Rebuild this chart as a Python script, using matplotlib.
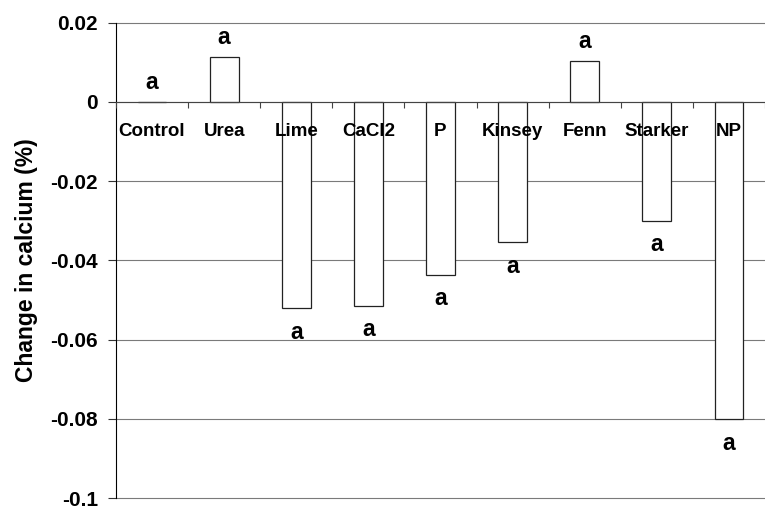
import matplotlib
matplotlib.use("Agg")
import matplotlib.pyplot as plt
import numpy as np

categories = ["Control", "Urea", "Lime", "CaCl2", "P", "Kinsey", "Fenn", "Starker", "NP"]
values = [0.0, 0.0112, -0.0521, -0.0515, -0.0437, -0.0355, 0.0104, -0.0300, -0.0801]
letters = ["a", "a", "a", "a", "a", "a", "a", "a", "a"]
yticks = [0.02, 0, -0.02, -0.04, -0.06, -0.08, -0.1]
yticklabels = ["0.02", "0", "-0.02", "-0.04", "-0.06", "-0.08", "-0.1"]

plt.rcParams['font.family'] = ['Liberation Sans', 'DejaVu Sans']
plt.rcParams['font.weight'] = 'bold'

fig = plt.figure(figsize=(7.65, 5.11), dpi=100)
ax = fig.add_axes([116/765, 13/511, 649/765, 475.5/511])

x = np.arange(len(categories))
ax.bar(x, values, width=0.4, color='white', edgecolor='#222222', linewidth=0.9, zorder=2)

ax.set_xlim(-0.5, len(categories) - 0.5)
ax.set_ylim(-0.1, 0.02)
ax.set_yticks(yticks)
ax.set_yticklabels(yticklabels, fontsize=15, fontweight='bold')
ax.tick_params(axis='y', direction='out', length=5.5, width=0.8, pad=7.5, color='#333333')

# x axis at zero
ax.spines['bottom'].set_position(('data', 0))
ax.spines['bottom'].set_color('#444444')
ax.spines['bottom'].set_linewidth(0.8)
ax.spines['top'].set_visible(False)
ax.spines['right'].set_visible(False)
ax.spines['left'].set_color('black')
ax.spines['left'].set_linewidth(0.8)

ax.set_xticks(x)
ax.set_xticklabels(categories, fontsize=13.5, fontweight='bold')
ax.tick_params(axis='x', which='major', length=0, pad=15.5)
ax.set_xticks(np.arange(-0.5, len(categories) + 0.5), minor=True)
ax.tick_params(axis='x', which='minor', direction='out', length=4.5, width=0.8, color='#444444')

ax.yaxis.grid(True, color='#7a7a7a', linewidth=0.8)
ax.set_axisbelow(True)
ax.xaxis.set_zorder(3)
for gl in ax.get_ygridlines():
    gl.set_clip_on(False)

for xi, v, lab in zip(x, values, letters):
    if v >= 0:
        ax.annotate(lab, (xi, v), xytext=(0, 13), textcoords='offset pixels',
                    ha='center', va='baseline', fontsize=16.5, fontweight='bold', zorder=4)
    else:
        ax.annotate(lab, (xi, v), xytext=(0, -30.5), textcoords='offset pixels',
                    ha='center', va='baseline', fontsize=16.5, fontweight='bold', zorder=4)

ax.set_ylabel("Change in calcium (%)", fontsize=16.5, fontweight='bold')
ax.yaxis.set_label_coords(-0.12, 0.5)

fig.savefig("out.png", dpi=100)
